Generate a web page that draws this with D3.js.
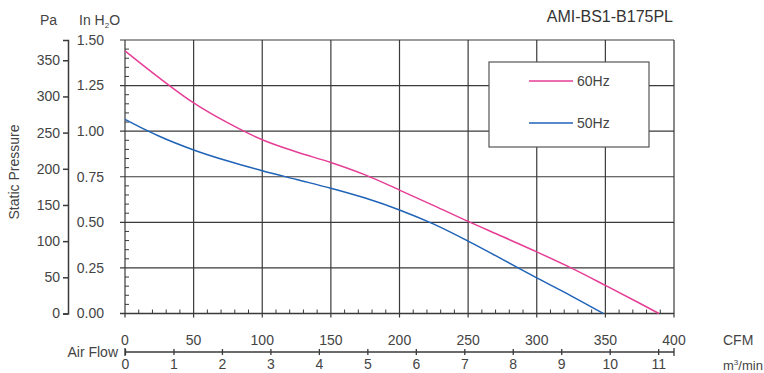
<!DOCTYPE html>
<html><head><meta charset="utf-8">
<script src="https://cdn.jsdelivr.net/npm/d3@7"></script>
<style>html,body{margin:0;padding:0;background:#fff;}svg{display:block;font-family:"Liberation Sans",Arial,sans-serif;}</style>
</head><body><svg id="c" width="764" height="373"></svg>
<script>
const title = "AMI-BS1-B175PL";
const cfm60 = [0, 10, 25, 50, 75, 100, 125, 150, 175, 200, 225, 250, 275, 300, 325, 350, 375, 389];
const inh60 = [1.44, 1.38, 1.292, 1.155, 1.045, 0.953, 0.886, 0.828, 0.76, 0.677, 0.592, 0.505, 0.422, 0.338, 0.25, 0.154, 0.056, 0];
const cfm50 = [0, 17, 25, 50, 75, 100, 125, 150, 175, 200, 225, 250, 275, 300, 325, 348.5];
const inh50 = [1.065, 1.0, 0.972, 0.897, 0.836, 0.783, 0.735, 0.687, 0.633, 0.568, 0.49, 0.397, 0.297, 0.195, 0.097, 0];
const cfmTicks = [0, 50, 100, 150, 200, 250, 300, 350, 400];
const m3Ticks = [0, 1, 2, 3, 4, 5, 6, 7, 8, 9, 10, 11];
const inhTicks = [0, 0.25, 0.5, 0.75, 1.0, 1.25, 1.5];
const paTicks = [0, 50, 100, 150, 200, 250, 300, 350];
const seriesNames = ["60Hz", "50Hz"];
const colors = ["#e63e96", "#1f63b8"];

const svg = d3.select("#c");
const X0 = 125, X1 = 674, Y0 = 313.5, Y1 = 40;
const x = d3.scaleLinear().domain([0, 400]).range([X0, X1]);
const y = d3.scaleLinear().domain([0, 1.5]).range([Y0, Y1]);
const yPa = d3.scaleLinear().domain([0, 378]).range([Y0, Y1]);
const xM3 = d3.scaleLinear().domain([0, 400 / 35.3147]).range([X0, X1]);
const txt = "#444", grid = "#3a3a3a";

// minor ticks (x: every 10 CFM, y: every 0.05)
const g = svg.append("g");
d3.range(0, 401, 10).filter(v => v % 50 !== 0).forEach(v => {
  g.append("line").attr("x1", x(v)).attr("x2", x(v)).attr("y1", Y0).attr("y2", Y0 - 4)
    .attr("stroke", grid).attr("stroke-width", 1);
});
d3.range(0, 31).map(i => i * 0.05).filter((v, i) => i % 5 !== 0).forEach(v => {
  g.append("line").attr("x1", X0).attr("x2", X0 + 4).attr("y1", y(v)).attr("y2", y(v))
    .attr("stroke", grid).attr("stroke-width", 1);
});
// grid
inhTicks.forEach(v => {
  g.append("line").attr("x1", X0 - 5).attr("x2", X1).attr("y1", y(v)).attr("y2", y(v))
    .attr("stroke", grid).attr("stroke-width", v === 0 ? 1.6 : 1.2);
});
cfmTicks.forEach(v => {
  g.append("line").attr("x1", x(v)).attr("x2", x(v)).attr("y1", Y1).attr("y2", Y0 + 4)
    .attr("stroke", grid).attr("stroke-width", 1.2);
});

// inH2O labels
inhTicks.forEach(v => {
  svg.append("text").attr("x", 104).attr("y", y(v)).attr("dy", "0.35em").attr("text-anchor", "end")
    .attr("font-size", 14).attr("fill", txt).text(v.toFixed(2));
});
// Pa axis
const paAxis = svg.append("g").attr("transform", "translate(68,0)")
  .call(d3.axisLeft(yPa).tickValues(paTicks).tickSize(5).tickPadding(3).tickSizeOuter(5));
paAxis.select(".domain").attr("stroke", grid).attr("stroke-width", 1.5);
paAxis.selectAll(".tick line").attr("stroke", grid).attr("stroke-width", 1.5);
paAxis.selectAll(".tick text").attr("font-size", 14).attr("fill", txt).attr("font-family", "Liberation Sans, Arial, sans-serif");

// CFM labels
cfmTicks.forEach(v => {
  svg.append("text").attr("x", x(v)).attr("y", 345).attr("text-anchor", "middle")
    .attr("font-size", 14).attr("fill", txt).text(v);
});
// m3/min axis
const m3 = svg.append("g").attr("transform", "translate(0,352)")
  .call(d3.axisBottom(xM3).tickValues(m3Ticks).tickSize(0).tickPadding(7).tickFormat(d3.format("d")));
m3.select(".domain").attr("d", `M${X0},0H${X1}`).attr("stroke", grid).attr("stroke-width", 1.5);
m3.selectAll(".tick text").attr("font-size", 14).attr("fill", txt).attr("font-family", "Liberation Sans, Arial, sans-serif");
m3.selectAll(".tick").append("line").attr("y1", -3).attr("y2", 3).attr("stroke", grid).attr("stroke-width", 1.3);
[X0, X1].forEach(px => m3.append("line").attr("x1", px).attr("x2", px).attr("y1", -4).attr("y2", 4).attr("stroke", grid).attr("stroke-width", 1.3));

// axis titles
svg.append("text").attr("x", 118).attr("y", 357).attr("text-anchor", "end").attr("font-size", 14).attr("fill", txt).text("Air Flow");
svg.append("text").attr("x", 723).attr("y", 345).attr("font-size", 14).attr("fill", txt).text("CFM");
const mt = svg.append("text").attr("x", 723).attr("y", 370).attr("font-size", 13).attr("fill", txt);
mt.append("tspan").text("m");
mt.append("tspan").attr("font-size", 8).attr("dy", -5).text("3");
mt.append("tspan").attr("dy", 5).text("/min");
svg.append("text").attr("x", 40).attr("y", 25).attr("font-size", 14).attr("fill", txt).text("Pa");
const ih = svg.append("text").attr("x", 79).attr("y", 25).attr("font-size", 14).attr("fill", txt);
ih.append("tspan").text("In H");
ih.append("tspan").attr("font-size", 8).attr("dy", 3).text("2");
ih.append("tspan").attr("dy", -3).text("O");
svg.append("text").attr("transform", "translate(19,172) rotate(-90)").attr("text-anchor", "middle")
  .attr("font-size", 14).attr("fill", txt).text("Static Pressure");
svg.append("text").attr("x", 673).attr("y", 22).attr("text-anchor", "end").attr("font-size", 16).attr("fill", "#333").text(title);

// curves
const line = d3.line().x(d => x(d[0])).y(d => y(d[1])).curve(d3.curveMonotoneX);
[[cfm60, inh60], [cfm50, inh50]].forEach((s, i) => {
  svg.append("path").datum(s[0].map((c, j) => [c, s[1][j]])).attr("d", line)
    .attr("fill", "none").attr("stroke", colors[i]).attr("stroke-width", 1.5);
});

// legend
const lg = svg.append("g");
lg.append("rect").attr("x", 489).attr("y", 62).attr("width", 160).attr("height", 85)
  .attr("fill", "#fff").attr("stroke", "#555").attr("stroke-width", 1.2);
seriesNames.forEach((n, i) => {
  const ly = 81 + i * 42;
  lg.append("line").attr("x1", 529).attr("x2", 573).attr("y1", ly).attr("y2", ly).attr("stroke", colors[i]).attr("stroke-width", 1.5);
  lg.append("text").attr("x", 577).attr("y", ly).attr("dy", "0.35em").attr("font-size", 14).attr("fill", txt).text(n);
});
</script></body></html>
